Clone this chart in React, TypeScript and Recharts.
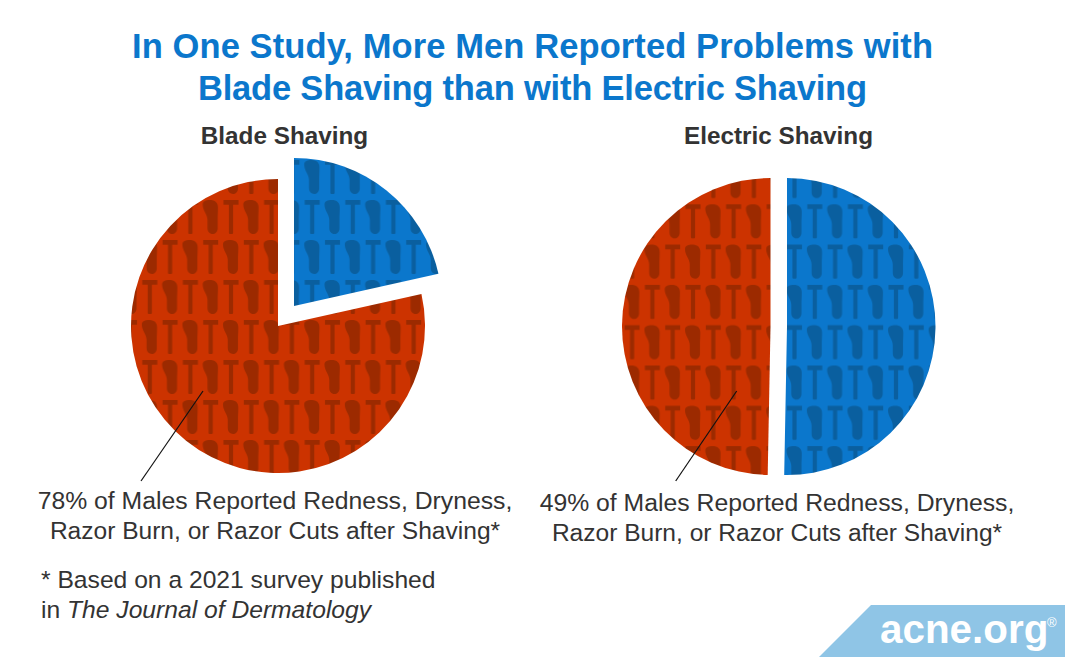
import React from 'react';
import { PieChart, Pie, Cell } from 'recharts';

const BLUE = '#0b77cc';
const RED = '#cc3300';
const BLUE_DARK = '#0a5f9f';
const RED_DARK = '#9c2a00';
const INK = '#333';

// share of men, as the slices are drawn in the picture
const bladeShares = [21.5, 78.5];
const electricShares = [50.3, 49.7];
const sliceNames = ['No problems', 'Problems'];

const titleLines = ['In One Study, More Men Reported Problems with', 'Blade Shaving than with Electric Shaving'];
const bladeLabel = ['78% of Males Reported Redness, Dryness,', 'Razor Burn, or Razor Cuts after Shaving*'];
const electricLabel = ['49% of Males Reported Redness, Dryness,', 'Razor Burn, or Razor Cuts after Shaving*'];

const FONT = '"Liberation Sans", Arial, sans-serif';
const FOOT = 'M-8,4.5 C-8,1 -4.5,0 -1,0 C4.5,0 7.3,2.5 7.3,7.5 C7.3,12 7,15 7,19 L7,28.5 C7,32 4.5,34 2,34 C-1.2,34 -3.2,31.5 -3.2,28 L-3.2,20 C-3.2,14 -8,11 -8,4.5 Z';
const TEE = 'M-7.5,0 H7.5 V4.8 H2.1 V33 Q2.1,34 1.1,34 H-1.1 Q-2.1,34 -2.1,33 V4.8 H-7.5 Z';

// razor pattern: two rows of alternating razors and feet
const Razors = ({ id, bg, dark, x, y, h }: { id: string; bg: string; dark: string; x: number; y: number; h: number }) => (
  <pattern id={id} patternUnits="userSpaceOnUse" x={x} y={y} width={81.2} height={h}>
    <rect x={0} y={0} width={81.2} height={h} fill={bg} />
    {[0, 40.6, 81.2].map((px, i) => (
      <g key={i}>
        <path d={TEE} fill={dark} transform={`translate(${px},0)`} />
        <path d={FOOT} fill={dark} transform={`translate(${px + 20.3},0)`} />
        <path d={FOOT} fill={dark} transform={`translate(${px},${h / 2})`} />
        <path d={TEE} fill={dark} transform={`translate(${px + 20.3},${h / 2})`} />
      </g>
    ))}
  </pattern>
);

const pieRow = (values: number[]) => values.map((value, i) => ({ name: sliceNames[i], value }));

export default function App() {
  return (
    <div style={{ position: 'absolute', left: 0, top: 0, width: 1065, height: 657, background: '#fff' }}>
      <PieChart width={1065} height={657} margin={{ top: 0, right: 0, bottom: 0, left: 0 }}>
        <defs>
          <Razors id="bladeRed" bg={RED} dark={RED_DARK} x={231} y={200} h={80} />
          <Razors id="bladeBlue" bg={BLUE} dark={BLUE_DARK} x={231} y={200} h={80} />
          <Razors id="elecRed" bg={RED} dark={RED_DARK} x={693} y={204.3} h={80.6} />
          <Razors id="elecBlue" bg={BLUE} dark={BLUE_DARK} x={693} y={204.3} h={80.6} />
        </defs>

        <Pie data={pieRow(bladeShares)} dataKey="value" cx={294} cy={306} innerRadius={0} outerRadius={148} startAngle={90} endAngle={-270} stroke="none" isAnimationActive={false}>
          <Cell fill="url(#bladeBlue)" />
          <Cell fill="none" />
        </Pie>
        <Pie data={pieRow(bladeShares)} dataKey="value" cx={278} cy={326} innerRadius={0} outerRadius={147} startAngle={90} endAngle={-270} stroke="none" isAnimationActive={false}>
          <Cell fill="none" />
          <Cell fill="url(#bladeRed)" />
        </Pie>
        <Pie data={pieRow(electricShares)} dataKey="value" cx={787} cy={326.5} innerRadius={0} outerRadius={148.5} startAngle={90} endAngle={-270} stroke="none" isAnimationActive={false}>
          <Cell fill="url(#elecBlue)" />
          <Cell fill="none" />
        </Pie>
        <Pie data={pieRow(electricShares)} dataKey="value" cx={770.5} cy={326.5} innerRadius={0} outerRadius={148.5} startAngle={90} endAngle={-270} stroke="none" isAnimationActive={false}>
          <Cell fill="none" />
          <Cell fill="url(#elecRed)" />
        </Pie>
      </PieChart>

      {/* text and leader lines sit over the pies */}
      <svg width={1065} height={657} style={{ position: 'absolute', left: 0, top: 0 }} fontFamily={FONT}>
        <text x={532.5} y={58} textAnchor="middle" fontSize={34.5} fontWeight={700} fill={BLUE} textLength={801}>{titleLines[0]}</text>
        <text x={532.5} y={99.5} textAnchor="middle" fontSize={34.5} fontWeight={700} fill={BLUE} textLength={669}>{titleLines[1]}</text>
        <text x={284.5} y={144} textAnchor="middle" fontSize={24.3} fontWeight={700} fill={INK}>Blade Shaving</text>
        <text x={778.5} y={144} textAnchor="middle" fontSize={24.3} fontWeight={700} fill={INK}>Electric Shaving</text>

        <line x1={141} y1={481} x2={203} y2={391} stroke="#111" strokeWidth={1.2} />
        <line x1={675.7} y1={481} x2={736.7} y2={391} stroke="#111" strokeWidth={1.2} />

        <text x={275} y={509} textAnchor="middle" fontSize={24.75} fill={INK}>{bladeLabel[0]}</text>
        <text x={275} y={539} textAnchor="middle" fontSize={24.55} fill={INK}>{bladeLabel[1]}</text>
        <text x={777} y={511} textAnchor="middle" fontSize={24.75} fill={INK}>{electricLabel[0]}</text>
        <text x={777} y={541} textAnchor="middle" fontSize={24.55} fill={INK}>{electricLabel[1]}</text>

        <text x={41} y={588} fontSize={24.65} fill={INK}>* Based on a 2021 survey published</text>
        <text x={41} y={618} fontSize={24.65} fill={INK}>in <tspan fontStyle="italic">The Journal of Dermatology</tspan></text>

        <polygon points="871,605 1065,605 1065,657 819,657" fill="#8fc5e6" />
        <text x={880} y={643} fontSize={40.4} fontWeight={700} fill="#fff">acne.org</text>
        <text x={1047} y={627} fontSize={13} fill="#fff">®</text>
      </svg>
    </div>
  );
}
